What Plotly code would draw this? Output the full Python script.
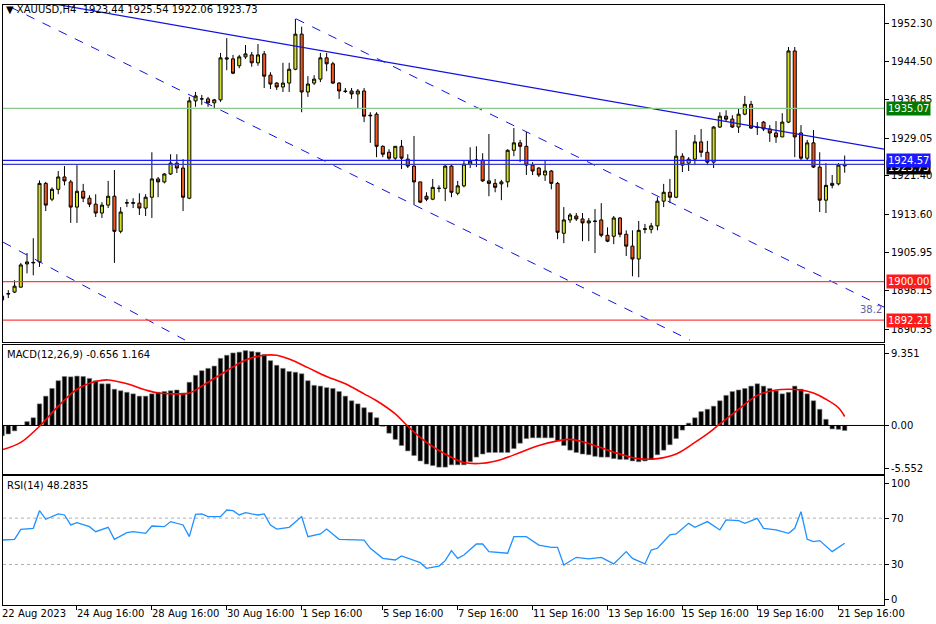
import plotly.graph_objects as go

opens = [1897.1,1897.5,1897.9,1898.9,1903.6,1903.8,1904.0,1919.9,1916.7,1918.7,
1921.2,1920.2,1915.1,1918.3,1916.9,1915.7,1913.9,1915.5,1917.3,1910.2,
1915.9,1916.0,1915.9,1914.9,1917.1,1920.8,1920.2,1921.8,1924.0,1923.0,
1916.9,1936.6,1937.0,1937.0,1936.2,1936.8,1945.3,1945.1,1943.7,1945.5,
1945.9,1944.3,1946.1,1941.8,1940.2,1939.4,1940.2,1943.0,1950.1,1938.4,
1940.2,1941.0,1945.3,1944.1,1940.2,1938.6,1938.6,1938.0,1938.6,1933.7,
1933.9,1927.4,1926.2,1925.0,1927.4,1924.8,1923.4,1920.2,1917.3,1916.7,
1918.9,1918.9,1923.4,1917.9,1919.4,1923.8,1924.6,1924.6,1920.4,1919.9,
1919.8,1920.2,1926.6,1928.1,1927.4,1923.6,1923.0,1921.6,1922.4,1919.9,
1909.8,1912.5,1913.3,1912.7,1911.9,1912.3,1912.5,1909.4,1909.2,1912.9,
1909.6,1907.2,1904.6,1910.6,1910.6,1911.3,1916.3,1918.1,1917.1,1925.4,
1924.0,1924.8,1928.3,1926.2,1924.2,1931.3,1933.5,1932.9,1931.3,1933.9,
1935.9,1931.3,1932.3,1930.9,1930.1,1929.3,1932.3,1946.7,1930.1,1925.0,
1928.1,1923.2,1916.5,1919.5,1919.8,1923.44]
highs = [1898.3,1898.3,1900.3,1903.8,1905.8,1908.8,1920.5,1920.2,1919.1,1922.4,
1923.4,1920.6,1923.6,1919.8,1917.5,1917.7,1916.1,1920.4,1922.6,1915.1,
1916.7,1916.9,1917.9,1917.7,1926.2,1921.2,1922.0,1925.8,1925.8,1924.8,
1937.4,1938.4,1937.8,1937.4,1937.0,1946.3,1949.3,1945.9,1945.9,1947.9,
1946.5,1948.1,1946.7,1942.4,1940.4,1944.3,1944.3,1953.2,1951.6,1941.6,
1941.8,1946.3,1946.3,1944.5,1940.4,1939.2,1939.2,1939.0,1939.2,1934.3,
1934.3,1927.6,1926.8,1927.4,1928.7,1925.8,1929.5,1920.2,1918.1,1920.8,
1919.5,1923.6,1923.6,1920.4,1924.6,1927.2,1927.4,1926.0,1929.9,1920.8,
1920.6,1926.8,1931.1,1928.7,1930.3,1924.2,1923.2,1924.6,1922.6,1920.2,
1915.1,1913.9,1913.9,1913.9,1912.9,1914.7,1915.9,1911.0,1913.3,1913.1,
1910.4,1910.4,1912.3,1911.7,1911.9,1917.1,1919.8,1920.8,1930.7,1926.0,
1925.2,1929.7,1930.9,1928.5,1931.5,1934.3,1934.7,1933.7,1935.1,1937.6,
1936.6,1932.3,1932.5,1931.7,1932.5,1934.1,1947.5,1947.5,1931.7,1928.7,
1930.7,1926.2,1924.0,1921.6,1924.0,1925.54]
lows = [1889.6,1896.7,1897.7,1898.8,1901.7,1901.3,1903.0,1914.3,1916.3,1917.7,
1919.5,1911.9,1911.9,1916.1,1915.1,1913.1,1912.9,1914.9,1903.8,1909.8,
1915.1,1914.9,1913.5,1913.3,1912.9,1917.1,1919.9,1921.6,1922.0,1914.3,
1916.7,1935.4,1935.8,1935.4,1935.1,1936.4,1942.8,1942.0,1943.2,1945.1,
1943.5,1943.7,1939.2,1939.0,1938.8,1938.4,1938.4,1942.8,1934.3,1937.4,
1939.8,1940.4,1942.6,1940.0,1937.0,1938.2,1937.0,1935.1,1932.3,1928.1,
1925.2,1925.2,1924.6,1924.6,1922.8,1923.0,1915.5,1915.9,1916.3,1916.5,
1918.1,1916.3,1917.1,1917.5,1919.1,1923.0,1923.2,1920.2,1917.3,1918.1,
1916.5,1919.1,1925.4,1924.2,1921.6,1921.6,1921.2,1920.4,1918.7,1908.6,
1907.8,1911.9,1912.3,1908.2,1908.2,1905.8,1909.0,1908.0,1907.6,1909.0,
1905.2,1901.1,1900.9,1909.8,1909.8,1910.4,1915.1,1915.9,1916.9,1922.2,
1922.4,1923.6,1925.2,1923.6,1923.0,1931.1,1932.5,1931.1,1930.1,1933.7,
1930.9,1929.7,1930.5,1928.3,1928.1,1929.3,1932.1,1925.2,1924.6,1924.6,
1923.0,1914.1,1913.9,1918.9,1919.5,1922.06]
closes = [1896.3,1897.6,1899.1,1903.4,1904.0,1903.9,1919.9,1915.5,1918.7,1921.2,
1920.4,1915.1,1918.3,1916.9,1915.7,1913.9,1915.5,1917.3,1910.2,1914.1,
1916.0,1915.9,1914.9,1917.1,1920.8,1920.2,1921.8,1924.0,1923.0,1917.1,
1936.6,1937.6,1937.0,1936.2,1936.8,1945.3,1945.1,1942.2,1945.5,1946.1,
1944.3,1945.9,1941.6,1940.0,1939.4,1940.2,1943.0,1950.1,1938.4,1940.0,
1941.0,1945.3,1944.1,1940.2,1938.6,1938.5,1938.0,1938.6,1933.5,1933.6,
1927.4,1925.8,1925.0,1927.4,1925.0,1923.4,1920.2,1916.1,1916.7,1919.1,
1918.9,1923.4,1918.1,1919.4,1923.8,1924.4,1924.6,1920.4,1919.9,1919.1,
1920.2,1926.6,1928.1,1927.4,1923.6,1922.4,1921.6,1922.4,1919.9,1910.0,
1912.5,1913.5,1912.7,1911.9,1912.3,1912.2,1909.4,1908.2,1912.9,1909.6,
1907.2,1904.6,1910.4,1910.7,1911.3,1916.3,1918.1,1917.1,1925.4,1923.6,
1924.8,1928.3,1926.2,1924.2,1931.3,1933.5,1932.9,1931.3,1933.9,1935.9,
1931.1,1931.2,1930.9,1930.1,1929.3,1932.3,1946.7,1929.3,1925.0,1928.1,
1923.2,1916.5,1919.5,1919.9,1923.6,1923.73]

macd_hist = [-1.34,-1.1,-0.7,0.0,0.5,1.0,2.8,3.8,4.8,5.8,
6.35,6.3,6.4,6.35,6.1,5.8,5.4,5.4,4.7,4.5,
4.3,4.1,3.8,3.8,4.1,4.3,4.4,4.5,4.6,4.2,
5.6,6.5,7.1,7.4,7.7,8.7,9.1,9.4,9.5,9.7,
9.6,9.5,9.2,8.4,7.8,7.4,7.0,6.9,6.7,5.8,
5.2,5.1,4.9,4.8,4.4,3.8,3.2,2.8,2.3,1.7,
1.0,-0.1,-1.0,-1.8,-2.6,-3.3,-3.9,-4.6,-5.0,-5.2,
-5.4,-5.4,-5.1,-5.1,-5.1,-4.7,-4.1,-3.7,-3.5,-3.5,
-3.5,-3.5,-3.0,-2.3,-1.7,-1.6,-1.6,-1.6,-1.6,-2.0,
-2.6,-3.2,-3.5,-3.7,-3.8,-4.0,-4.1,-4.1,-4.3,-4.4,
-4.4,-4.6,-4.7,-4.6,-4.4,-3.8,-3.2,-2.5,-1.7,-0.6,
0.3,1.0,1.8,2.1,2.5,3.2,3.9,4.4,4.6,4.8,
5.1,5.4,5.1,4.8,4.5,4.1,4.3,5.1,4.7,4.1,
3.2,2.1,0.8,-0.45,-0.5,-0.656]

signal_idx = [0,3,6,9,12,15,17,20,23,25,28,30,33,36,39,42,44,46,49,52,55,58,60,63,65,68,71,74,77,80,83,86,89,91,93,96,99,102,105,108,111,113,115,118,121,124,126,128,130,132,134,135]
signal_val = [-3.15,-2.2,-0.1,2.5,4.7,5.7,5.9,5.4,4.6,4.2,4.1,4.2,5.6,7.1,8.5,9.1,9.1,8.6,7.5,6.35,5.4,4.1,3.2,1.5,-0.1,-2.2,-3.7,-4.8,-4.9,-4.4,-3.5,-2.6,-2.0,-1.8,-2.1,-2.9,-3.7,-4.3,-4.3,-3.7,-2.2,-1.1,0.2,2.1,3.9,4.6,4.7,4.6,4.2,3.4,2.3,1.164]

rsi_idx = [0,2,3,5,6,7,9,10,11,12,14,15,17,18,20,21,23,24,26,27,29,30,31,32,33,35,36,37,38,39,40,41,42,43,44,46,48,49,51,52,54,56,58,59,61,63,64,67,68,70,71,72,73,74,76,77,78,81,82,84,86,88,89,90,92,94,96,98,100,101,103,104,105,107,108,110,111,113,115,116,118,119,121,122,124,126,127,128,129,130,131,133,134,135]
rsi_val = [51.1,51.7,60.3,61.2,76.4,69,73.6,72.7,64.1,66.1,62.6,58.3,62.1,51.7,57.5,58.3,56.9,63.2,62.6,67,64.1,54,73.3,73.6,71.3,71.3,77,76.4,72.7,74.7,73.6,72.7,73.6,64.1,60.6,62.1,71.3,54,56.3,60.6,51.7,51.1,51.1,44,35.3,33.9,37.4,31.6,26.7,28.7,33.3,42,35.3,38.2,47.7,47.7,41.1,39.7,54,54,46.8,44.8,44.8,29.6,36.2,34.8,36.2,30.5,41.1,35.3,30.5,42.5,44,55.5,56.3,65.5,62.1,67,59.8,68.4,67.8,65.5,69.8,61.2,59.8,56.9,61.2,75.6,51.7,49.7,50.6,41.1,44.8,48.3]

# horizontal levels
level_green = 1935.07
level_blue = 1924.57
level_bid = 1923.73
level_red1 = 1900.00
level_red2 = 1892.21
# trendline anchors (bar index, price)
trend_solid = [(6.6, 1956.6), (141.4, 1926.8)]
chan_a = [(1.3, 1955.6), (110.2, 1888.2)]
chan_b = [(47.1, 1953.2), (141.4, 1894.8)]
chan_c = [(0.16, 1908.0), (29.3, 1888.2)]

tick_idx = [0,12,24,36,48,61,73,85,97,109,121,134]
tick_text = ["22 Aug 2023","24 Aug 16:00","28 Aug 16:00","30 Aug 16:00","1 Sep 16:00","5 Sep 16:00",
             "7 Sep 16:00","11 Sep 16:00","13 Sep 16:00","15 Sep 16:00","19 Sep 16:00","21 Sep 16:00"]
main_ticks = [1952.30,1944.50,1936.85,1929.05,1921.40,1913.60,1905.95,1898.15,1890.35]
macd_ticks = [9.351,0.0,-5.552]
macd_tick_text = ["9.351","0.00","-5.552"]
rsi_ticks = [100,70,30,0]

idx = list(range(len(opens)))
F = "DejaVu Sans"
X0, X1 = 3/936, 884/936
XR = [0.15, 141.3]

fig = go.Figure()
fig.add_trace(go.Candlestick(x=idx, open=opens, high=highs, low=lows, close=closes,
    increasing=dict(fillcolor="#d2e01e", line=dict(color="black", width=1)),
    decreasing=dict(fillcolor="#f05a1e", line=dict(color="black", width=1)),
    whiskerwidth=0, xaxis="x", yaxis="y", showlegend=False))
for (a, b), dash, w in [(trend_solid, "solid", 1.2), (chan_a, "dash", 1), (chan_b, "dash", 1), (chan_c, "dash", 1)]:
    fig.add_trace(go.Scatter(x=[a[0], b[0]], y=[a[1], b[1]], mode="lines",
        line=dict(color="#1010e0", width=w, dash=dash), xaxis="x", yaxis="y", showlegend=False))
for lv, col in [(level_green, "#8cc88c"), (level_blue, "#1a1aff"), (level_bid, "#3a3ac8"),
                (level_red1, "#ff4040"), (level_red2, "#ff4040")]:
    fig.add_trace(go.Scatter(x=XR, y=[lv, lv], mode="lines", line=dict(color=col, width=1.2),
        xaxis="x", yaxis="y", showlegend=False))

fig.add_trace(go.Bar(x=idx, y=macd_hist, marker=dict(color="black", line=dict(color="#808080", width=0.6)),
    width=0.72, xaxis="x2", yaxis="y2", showlegend=False))
fig.add_trace(go.Scatter(x=XR, y=[0, 0], mode="lines", line=dict(color="black", width=1), xaxis="x2", yaxis="y2", showlegend=False))
fig.add_trace(go.Scatter(x=signal_idx, y=signal_val, mode="lines", line=dict(color="red", width=1.6, shape="spline"),
    xaxis="x2", yaxis="y2", showlegend=False))

for lv in [70, 30]:
    fig.add_trace(go.Scatter(x=XR, y=[lv, lv], mode="lines", line=dict(color="#b0b0b0", width=1, dash="dot"),
        xaxis="x3", yaxis="y3", showlegend=False))
fig.add_trace(go.Scatter(x=rsi_idx, y=rsi_val, mode="lines", line=dict(color="#1e90ff", width=1.3),
    xaxis="x3", yaxis="y3", showlegend=False))

ax = dict(range=XR, showgrid=False, zeroline=False, showline=True, mirror=True, linecolor="black",
          linewidth=1, showticklabels=False, fixedrange=True)
yax = dict(showgrid=False, zeroline=False, showline=True, mirror=True, linecolor="black", side="right",
           ticks="outside", ticklen=4, tickcolor="black", tickfont=dict(family=F, size=10, color="black"))
fig.update_layout(
    width=936, height=624, margin=dict(l=0, r=0, t=0, b=0), paper_bgcolor="white", plot_bgcolor="white",
    xaxis=dict(ax, domain=[X0, X1], anchor="y", rangeslider=dict(visible=False)),
    xaxis2=dict(ax, domain=[X0, X1], anchor="y2", matches="x"),
    xaxis3=dict(ax, domain=[X0, X1], anchor="y3", matches="x", ticks="outside", ticklen=4,
                tickvals=tick_idx, tickcolor="black"),
    yaxis=dict(yax, domain=[1-342/624, 1-5/624], range=[1887.8, 1956.0], tickvals=main_ticks,
               ticktext=["%.2f" % v for v in main_ticks], anchor="x"),
    yaxis2=dict(yax, domain=[1-474/624, 1-345/624], range=[-6.29, 10.43], tickvals=macd_ticks,
                ticktext=macd_tick_text, anchor="x2"),
    yaxis3=dict(yax, domain=[1-605/624, 1-476/624], range=[-4.9, 106.3], tickvals=rsi_ticks, anchor="x3"),
    bargap=0.2,
)

ann = []
def lab(text, yv, bg, fg="white", yref="y"):
    ann.append(dict(x=X1 + 0.002, xref="paper", y=yv, yref=yref, text=text, showarrow=False, xanchor="left",
                    font=dict(family=F, size=10, color=fg), bgcolor=bg, borderpad=1))
lab("1923.73", level_bid - 0.7, "black")
lab("1935.07", level_green, "#007a00")
lab("1924.57", level_blue, "#1a1aff")
lab("1900.00", level_red1, "#ff1a1a")
lab("1892.21", level_red2, "#ff1a1a")
ann.append(dict(x=141.3, y=level_red2 + 0.6, xref="x", yref="y", text="38.2", showarrow=False, xanchor="right",
                yanchor="bottom", font=dict(family=F, size=10, color="#6060a0")))
ann.append(dict(x=0.004, y=1-10/624, xref="paper", yref="paper", text="▼ XAUUSD,H4  1923.44 1925.54 1922.06 1923.73",
                showarrow=False, xanchor="left", yanchor="middle", font=dict(family=F, size=10, color="black")))
ann.append(dict(x=0.005, y=1-354/624, xref="paper", yref="paper", text="MACD(12,26,9) -0.656 1.164",
                showarrow=False, xanchor="left", yanchor="middle", font=dict(family=F, size=10, color="black")))
ann.append(dict(x=0.005, y=1-485/624, xref="paper", yref="paper", text="RSI(14) 48.2835",
                showarrow=False, xanchor="left", yanchor="middle", font=dict(family=F, size=10, color="black")))
for ti, tt in zip(tick_idx, tick_text):
    if ti == 0:
        ann.append(dict(x=0.0, xref="paper", y=1-613/624, yref="paper", text=tt, showarrow=False, xanchor="left",
                        yanchor="middle", font=dict(family=F, size=10, color="black")))
    else:
        ann.append(dict(x=ti, xref="x3", y=1-613/624, yref="paper", text=tt, showarrow=False, xanchor="left",
                        yanchor="middle", xshift=-2, font=dict(family=F, size=10, color="black")))
fig.update_layout(annotations=ann)
fig.write_html("out.html", config={"displayModeBar": False},
               post_script="document.body.style.margin='0';document.body.style.overflow='hidden';")
